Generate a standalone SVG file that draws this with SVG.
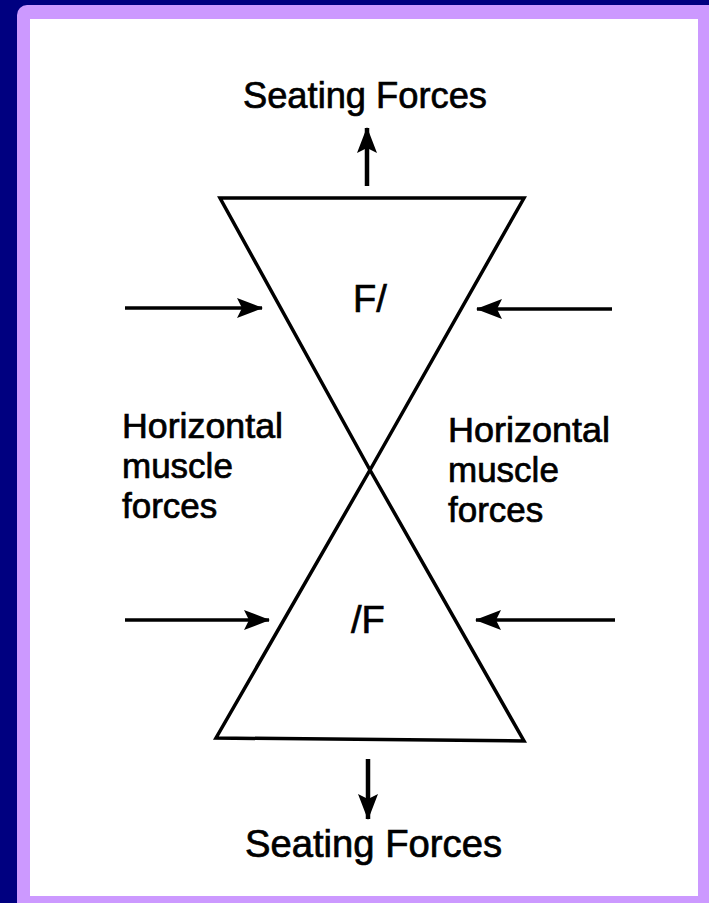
<svg xmlns="http://www.w3.org/2000/svg" width="709" height="903" viewBox="0 0 709 903">
<defs>
<marker id="ah" viewBox="0 0 26 20" refX="25" refY="10" markerWidth="26" markerHeight="20" markerUnits="userSpaceOnUse" orient="auto">
<path d="M0,0 L26,10 L0,20 L5,10 Z" fill="#000"/>
</marker>
</defs>
<style>
.lbl{font-family:"Liberation Sans",Arial,sans-serif;fill:#000;stroke:#000;stroke-width:0.7;}
.tri{fill:none;stroke:#000;stroke-width:3.5;stroke-linejoin:miter;}
.arr{stroke:#000;stroke-width:3.5;fill:none;}
.varr{stroke:#000;stroke-width:4.5;fill:none;}
</style>
<rect x="0" y="0" width="709" height="903" fill="#000080"/>
<rect x="17" y="5" width="710" height="920" rx="10" fill="#cc99ff"/>
<rect x="30" y="19" width="668" height="877" fill="#ffffff"/>

<g id="top-triangle">
<polygon class="tri" points="220,198 524,198 370,470"/>
<text class="lbl" x="353" y="312" font-size="38">F/</text>
</g>
<g id="bottom-triangle">
<polygon class="tri" points="370,470 524,741 216,738"/>
<text class="lbl" x="351" y="633" font-size="38">/F</text>
</g>
<g id="seating-top">
<text class="lbl" x="243" y="108" font-size="37" textLength="244" lengthAdjust="spacingAndGlyphs">Seating Forces</text>
</g>
<g id="seating-bottom">
<text class="lbl" x="245" y="857" font-size="38" textLength="257" lengthAdjust="spacingAndGlyphs">Seating Forces</text>
</g>
<g id="muscle-left">
<text class="lbl" font-size="35"><tspan x="122" y="438" textLength="161" lengthAdjust="spacingAndGlyphs">Horizontal</tspan><tspan x="122" y="478">muscle</tspan><tspan x="122" y="518">forces</tspan></text>
</g>
<g id="muscle-right">
<text class="lbl" font-size="35"><tspan x="448" y="442" textLength="162" lengthAdjust="spacingAndGlyphs">Horizontal</tspan><tspan x="448" y="482">muscle</tspan><tspan x="448" y="522">forces</tspan></text>
</g>

<g id="connectors">
<line class="varr" x1="367" y1="186" x2="367" y2="128" marker-end="url(#ah)"/>
<line class="varr" x1="368" y1="759" x2="368" y2="819" marker-end="url(#ah)"/>
<line class="arr" x1="125" y1="308" x2="262" y2="308" marker-end="url(#ah)"/>
<line class="arr" x1="612" y1="309" x2="477" y2="309" marker-end="url(#ah)"/>
<line class="arr" x1="125" y1="620" x2="269" y2="620" marker-end="url(#ah)"/>
<line class="arr" x1="615" y1="620" x2="476" y2="620" marker-end="url(#ah)"/>
</g>
</svg>
